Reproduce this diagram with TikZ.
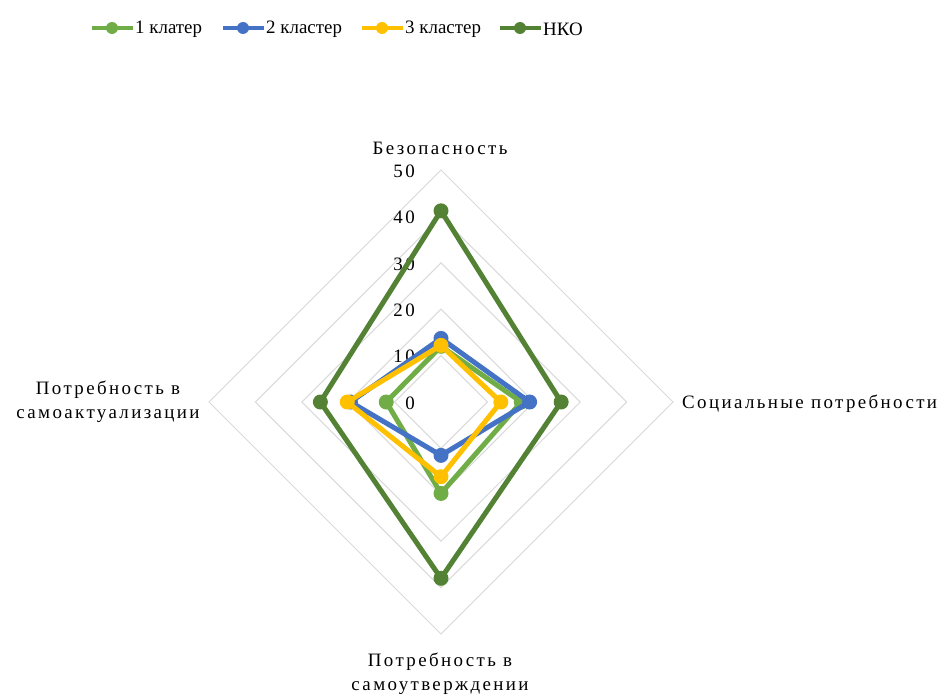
\documentclass[tikz,border=0pt]{standalone}
\usepackage{fontspec}
\setmainfont{Liberation Serif}
\newfontfamily\spfont[LetterSpace=12.6]{Liberation Serif}
\definecolor{cgreen}{HTML}{70AD47}
\definecolor{cblue}{HTML}{4472C4}
\definecolor{cyellow}{HTML}{FFC000}
\definecolor{cdark}{HTML}{548235}
\definecolor{cgrid}{HTML}{D9D9D9}
\newcommand\series[6]{%
  \coordinate (#1a) at (\cx,{\cy-\s*#2});
  \coordinate (#1b) at ({\cx+\s*#3},\cy);
  \coordinate (#1c) at (\cx,{\cy+\s*#4});
  \coordinate (#1d) at ({\cx-\s*#5},\cy);
  \draw[series=#6] (#1a) -- (#1b) -- (#1c) -- (#1d) -- cycle;
  \foreach \p in {a,b,c,d}{\node[mk=#6] (#1m\p) at (#1\p) {};}
}
\newcommand\legitem[5]{%
  \coordinate (#1l) at (#2,28);
  \coordinate (#1r) at ({#2+41},28);
  \draw[line width=4.5bp, draw=#4] (#1l) -- (#1r);
  \node[lmk=#4] (#1lm) at ({#2+20},28) {};
  \node[legtxt] (#1lt) at ({#2+43},29) {#5};
}
\begin{document}
\begin{tikzpicture}[x=1bp,y=-1bp,
  series/.style={line width=5bp, line join=round, draw=#1},
  mk/.style={circle, inner sep=0pt, minimum size=15bp, fill=#1, draw=none},
  lmk/.style={circle, inner sep=0pt, minimum size=12bp, fill=#1, draw=none},
  lbl/.style={font=\spfont\fontsize{19}{24}\selectfont, inner sep=0pt, align=center},
  ticklbl/.style={font=\spfont\fontsize{19}{24}\selectfont, anchor=east, inner sep=0pt},
  legtxt/.style={font=\fontsize{19}{24}\selectfont, anchor=west, inner sep=0pt},
  gridline/.style={draw=cgrid, line width=1bp}]
\useasboundingbox (0,0) rectangle (949,696);
\def\cx{441}\def\cy{402}\def\s{4.64}
% grid
\foreach \k in {1,...,5}{
  \draw[gridline] (\cx,{\cy-46.4*\k}) -- ({\cx+46.4*\k},\cy) -- (\cx,{\cy+46.4*\k}) -- ({\cx-46.4*\k},\cy) -- cycle;
}
% tick labels
\foreach \k in {0,...,5}{
  \pgfmathtruncatemacro\v{10*\k}
  \node[ticklbl] (t\k) at (415,{\cy-46.4*\k+1}) {\v};
}
% axis labels
\node[lbl] (ax1) at (440,148) {Безопасность};
\node[lbl, anchor=west] (ax2) at (682,404) {Социальные потребности};
\node[lbl] (ax3) at (440,674) {Потребность в\\самоутверждении};
\node[lbl] (ax4) at (108,402) {Потребность в\\самоактуализации};
% series
\series{g}{12}{17.3}{19.7}{11.8}{cgreen}
\series{b}{13.7}{19.1}{11.5}{19.5}{cblue}
\series{y}{12.2}{12.9}{16.1}{20.2}{cyellow}
\series{n}{41.2}{25.9}{38}{26}{cdark}
% legend
\legitem{g}{92}{}{cgreen}{1 клатер}
\legitem{b}{223}{}{cblue}{2 кластер}
\legitem{y}{362}{}{cyellow}{3 кластер}
\legitem{n}{500}{}{cdark}{НКО}
\end{tikzpicture}
\end{document}
